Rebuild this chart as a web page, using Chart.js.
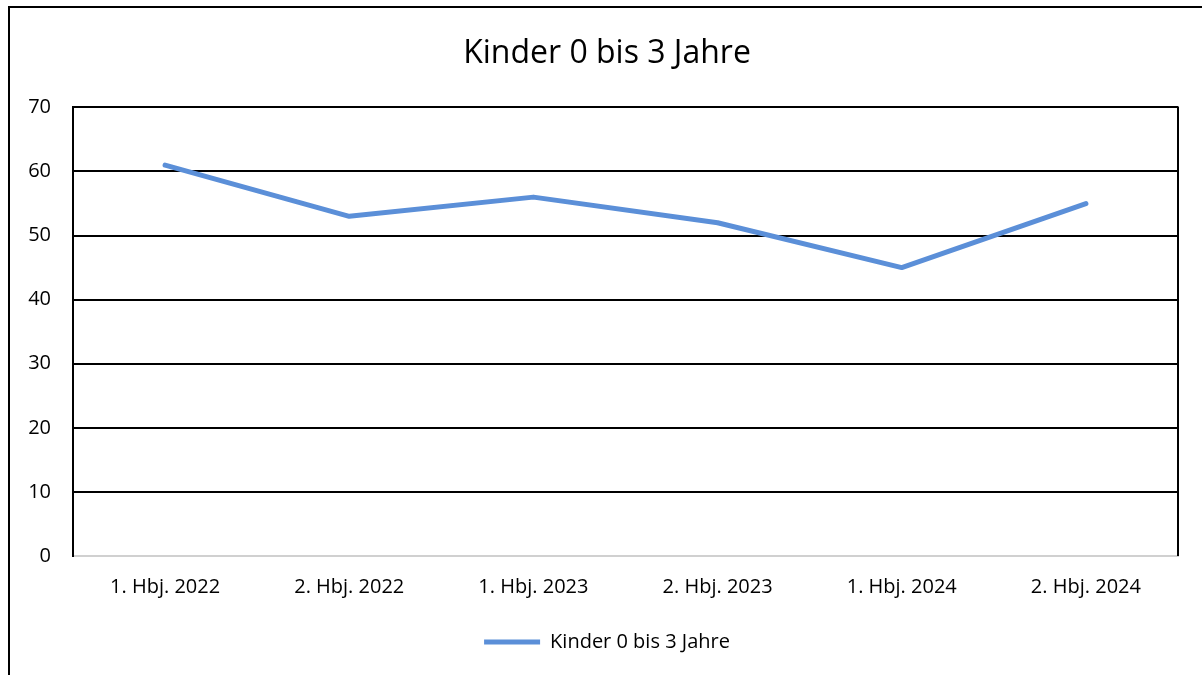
<!DOCTYPE html>
<html>
<head>
<meta charset="utf-8">
<script src="https://cdn.jsdelivr.net/npm/chart.js@4"></script>
<style>
  html, body { margin: 0; padding: 0; background: #fff; overflow: hidden; }
  #wrap { position: relative; width: 1202px; height: 675px; }
  #frame { position: absolute; left: 8px; top: 6px; width: 1300px; height: 800px; border: 2px solid #000; }
  #c { position: absolute; left: 0; top: 0; }
</style>
</head>
<body>
<div id="wrap">
  <div id="frame"></div>
  <canvas id="c" width="1202" height="675"></canvas>
</div>
<script>
const TITLE = 'Kinder 0 bis 3 Jahre';
const CATEGORIES = ['1. Hbj. 2022', '2. Hbj. 2022', '1. Hbj. 2023', '2. Hbj. 2023', '1. Hbj. 2024', '2. Hbj. 2024'];
const SERIES_LABEL = 'Kinder 0 bis 3 Jahre';
const VALUES = [61, 53, 56, 52, 45, 55];
const Y_TICKS = [0, 10, 20, 30, 40, 50, 60, 70];

const FONT = '"Open Sans", "Noto Sans", sans-serif';
const BLUE = '#5b8fd8';

// rechter Rand der Zeichenfläche
const rightBorder = {
  id: 'rightBorder',
  afterDatasetsDraw(chart) {
    const { ctx, chartArea: a } = chart;
    ctx.save();
    ctx.strokeStyle = '#000';
    ctx.lineWidth = 2;
    ctx.beginPath();
    ctx.moveTo(a.right, a.top - 1);
    ctx.lineTo(a.right, a.bottom);
    ctx.stroke();
    ctx.restore();
  },
};

new Chart(document.getElementById('c'), {
  type: 'line',
  data: {
    labels: CATEGORIES,
    datasets: [{
      label: SERIES_LABEL,
      data: VALUES,
      borderColor: BLUE,
      backgroundColor: BLUE,
      borderWidth: 5,
      borderCapStyle: 'round',
      borderJoinStyle: 'round',
      pointRadius: 0,
      tension: 0,
      clip: false,
    }],
  },
  options: {
    responsive: false,
    animation: false,
    layout: { padding: { left: 12, right: 0, top: 0, bottom: 13 } },
    plugins: {
      title: {
        display: true,
        text: TITLE,
        color: '#000',
        font: { family: FONT, size: 32, weight: 'normal' },
        padding: { top: 35, bottom: 34 },
      },
      legend: {
        position: 'bottom',
        labels: {
          color: '#000',
          font: { family: FONT, size: 20 },
          usePointStyle: true,
          pointStyle: 'line',
          pointStyleWidth: 56,
          boxHeight: 5,
          padding: 10,
        },
      },
      tooltip: { enabled: false },
    },
    scales: {
      x: {
        offset: true,
        grid: { display: false, drawTicks: false },
        border: { display: true, color: '#d0d0d0', width: 2 },
        ticks: { color: '#000', font: { family: FONT, size: 20 }, padding: 19, maxRotation: 0 },
        afterFit: s => { s.height = 66; },
      },
      y: {
        min: 0,
        max: 70,
        afterBuildTicks: s => { s.ticks = Y_TICKS.map(v => ({ value: v })); },
        grid: {
          drawTicks: false,
          lineWidth: 2,
          color: c => (c.tick && c.tick.value === 0 ? '#d0d0d0' : '#000'),
        },
        border: { display: true, color: '#000', width: 2 },
        ticks: { color: '#000', font: { family: FONT, size: 20 }, padding: 22 },
        afterFit: s => { s.width = 61; },
      },
      // leerer Rand rechts
      yRight: {
        position: 'right',
        grid: { display: false, drawTicks: false },
        border: { display: false },
        ticks: { display: false },
        afterFit: s => { s.width = 24; },
      },
    },
  },
  plugins: [rightBorder],
});
</script>
</body>
</html>
